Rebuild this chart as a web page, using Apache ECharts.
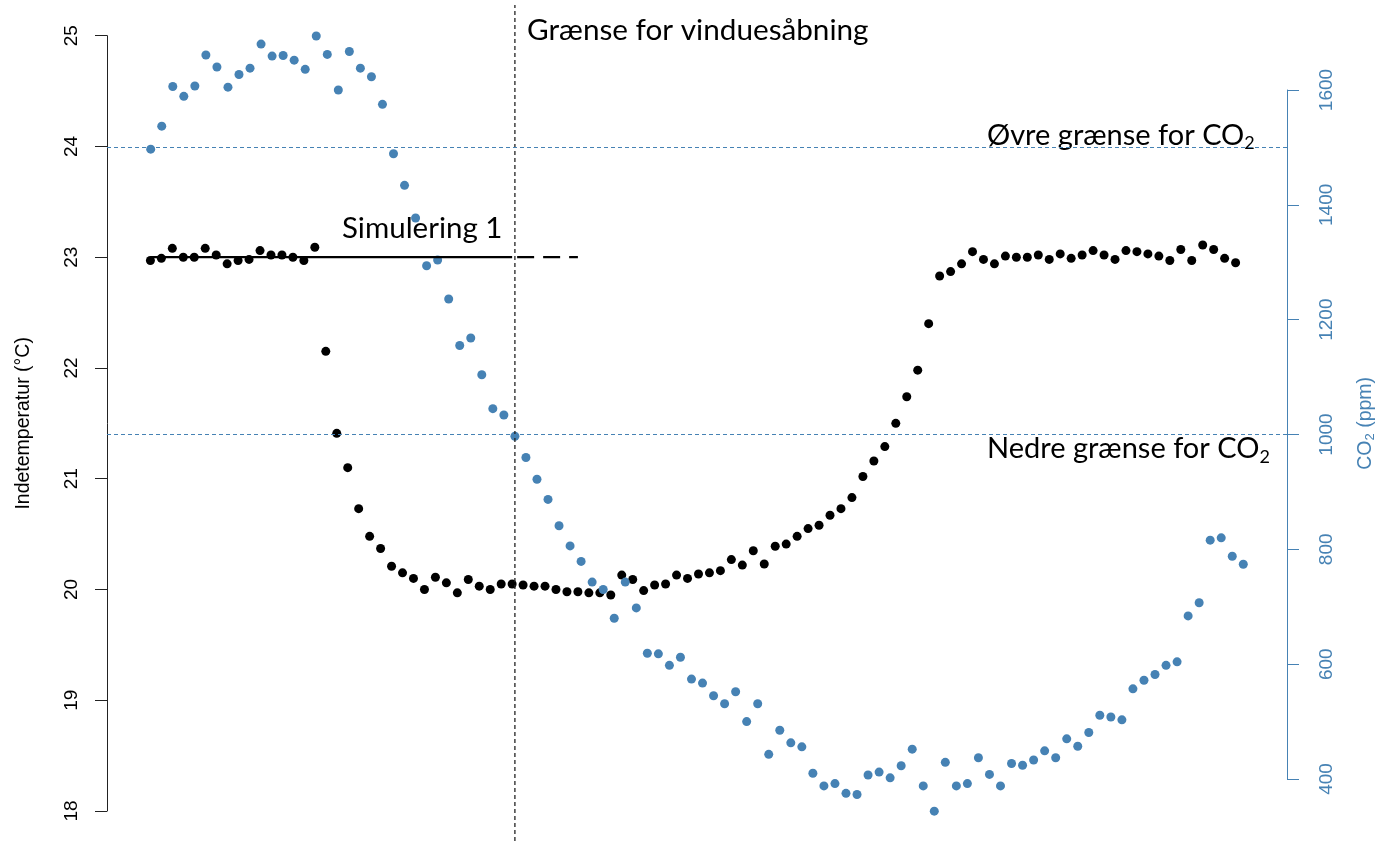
<!DOCTYPE html>
<html>
<head>
<meta charset="utf-8">
<script src="https://cdn.jsdelivr.net/npm/echarts@6/dist/echarts.min.js"></script>
<style>
html,body{margin:0;padding:0;background:#fff;}
#chart{width:1385px;height:841px;}
</style>
</head>
<body>
<div id="chart"></div>
<script>
// ---- data ----
const timeIndex = Array.from({length: 100}, (_, i) => i + 1);

const temperature = [
  22.97, 22.99, 23.08, 23.00, 23.00, 23.08, 23.02, 22.94, 22.97, 22.98,
  23.06, 23.02, 23.02, 23.00, 22.97, 23.09, 22.15, 21.41, 21.10, 20.73,
  20.48, 20.37, 20.21, 20.15, 20.10, 20.00, 20.11, 20.06, 19.97, 20.09,
  20.03, 20.00, 20.05, 20.05, 20.04, 20.03, 20.03, 20.00, 19.98, 19.98,
  19.97, 19.97, 19.95, 20.13, 20.09, 19.99, 20.04, 20.05, 20.13, 20.10,
  20.14, 20.15, 20.17, 20.27, 20.22, 20.35, 20.23, 20.39, 20.41, 20.48,
  20.55, 20.58, 20.67, 20.73, 20.83, 21.02, 21.16, 21.29, 21.50, 21.74,
  21.98, 22.40, 22.83, 22.87, 22.94, 23.05, 22.98, 22.94, 23.01, 23.00,
  23.00, 23.02, 22.98, 23.03, 22.99, 23.02, 23.06, 23.02, 22.98, 23.06,
  23.05, 23.03, 23.01, 22.97, 23.07, 22.97, 23.11, 23.07, 22.99, 22.95
];

const co2 = [
  1497, 1537, 1606, 1589, 1607, 1661, 1640, 1605, 1627, 1638,
  1680, 1659, 1660, 1652, 1636, 1694, 1662, 1600, 1667, 1638,
  1623, 1575, 1489, 1434, 1377, 1294, 1304, 1236, 1155, 1168,
  1104, 1045, 1034,  997,  960,  922,  887,  841,  806,  779,
   743,  730,  680,  743,  698,  619,  618,  598,  612,  574,
   567,  545,  531,  552,  500,  531,  443,  485,  463,  456,
   410,  388,  392,  375,  373,  407,  412,  402,  423,  452,
   388,  344,  429,  388,  392,  437,  408,  388,  427,  424,
   433,  449,  437,  470,  457,  481,  511,  508,  503,  557,
   572,  582,  598,  604,  684,  707,  816,  820,  788,  774
];

const tempTicks = {min: 18, max: 25, interval: 1};
const co2Ticks = {min: 400, max: 1600, interval: 200};
const co2Limits = [1500, 1000];          // upper / lower CO2 limit
const windowOpeningIndex = 34;           // "Grænse for vinduesåbning"
const simulation = {level: 23, start: 1, switchAt: 34, end: 40};

// ---- chart ----
const STEEL = '#4682B4';
const xRange = {min: 1 - 0.04 * 99, max: 100 + 0.04 * 99};
const axisFont = 'Liberation Sans';
const textFont = 'Lato';
const plain = v => String(v);

const tempData = timeIndex.map((t, i) => [t, temperature[i]]);
const co2Data = timeIndex.map((t, i) => [t, co2[i]]);

const chart = echarts.init(document.getElementById('chart'), null, {renderer: 'canvas'});

const subRich = (size, color) => ({
  a: {fontFamily: textFont, fontSize: size, fill: color, lineHeight: 34},
  s: {fontFamily: textFont, fontSize: 18, fill: color, lineHeight: 17, verticalAlign: 'bottom'}
});

const option = {
  animation: false,
  backgroundColor: '#fff',
  grid: [
    {left: 107, right: 98, top: 35.7, bottom: 30},
    {left: 107, right: 98, top: 90, bottom: 62},
    {left: 107, right: 98, top: 5, bottom: 0}
  ],
  xAxis: [0, 1, 2].map(g => ({
    type: 'value', gridIndex: g, min: xRange.min, max: xRange.max, show: false
  })),
  yAxis: [
    {
      type: 'value', gridIndex: 0, position: 'left',
      min: tempTicks.min, max: tempTicks.max, interval: tempTicks.interval,
      axisLine: {show: true, onZero: false, lineStyle: {color: '#222', width: 1}},
      axisTick: {show: true, length: 12, lineStyle: {color: '#222', width: 1}},
      axisLabel: {rotate: 90, margin: 26, fontSize: 19, color: '#000', fontFamily: axisFont, formatter: plain},
      splitLine: {show: false},
      name: 'Indetemperatur (°C)', nameLocation: 'middle', nameRotate: 90, nameGap: 73,
      nameTextStyle: {fontSize: 19.5, color: '#000', fontFamily: axisFont}
    },
    {
      type: 'value', gridIndex: 1, position: 'right',
      min: co2Ticks.min, max: co2Ticks.max, interval: co2Ticks.interval,
      axisLine: {show: true, onZero: false, lineStyle: {color: STEEL, width: 1}},
      axisTick: {show: true, length: 12, lineStyle: {color: STEEL, width: 1}},
      axisLabel: {rotate: 90, margin: 30, fontSize: 19, color: STEEL, fontFamily: axisFont, formatter: plain},
      splitLine: {show: false}
    },
    {type: 'value', gridIndex: 2, min: 0, max: 1, show: false},
    {
      type: 'value', gridIndex: 0, position: 'right', min: 0, max: 1,
      axisLine: {show: false, onZero: false}, axisTick: {show: false}, axisLabel: {show: false},
      splitLine: {show: false},
      name: '{a|CO}{s|2}{a| (ppm)}', nameLocation: 'middle', nameRotate: 90, nameGap: 76,
      nameTextStyle: {
        color: STEEL, fontFamily: axisFont, fontSize: 19.5,
        rich: {
          a: {color: STEEL, fontFamily: axisFont, fontSize: 19.5, lineHeight: 22},
          s: {color: STEEL, fontFamily: axisFont, fontSize: 13, lineHeight: 12, verticalAlign: 'bottom'}
        }
      }
    }
  ],
  series: [
    {
      name: 'window', type: 'line', xAxisIndex: 2, yAxisIndex: 2, symbol: 'none', silent: true,
      data: [[windowOpeningIndex, 0], [windowOpeningIndex, 1]],
      lineStyle: {color: '#222', width: 1.3, type: [4, 3]}
    },
    {
      name: 'sim-solid', type: 'line', xAxisIndex: 0, yAxisIndex: 0, symbol: 'none', silent: true,
      data: [[simulation.start, simulation.level], [simulation.switchAt, simulation.level]],
      lineStyle: {color: '#000', width: 2.2, type: 'solid'}
    },
    {
      name: 'sim-dashed', type: 'line', xAxisIndex: 0, yAxisIndex: 0, symbol: 'none', silent: true,
      data: [[simulation.switchAt, simulation.level], [simulation.end, simulation.level]],
      lineStyle: {color: '#000', width: 2.2, type: [17, 9], dashOffset: 21}
    },
    {
      name: 'Indetemperatur', type: 'scatter', xAxisIndex: 0, yAxisIndex: 0,
      symbol: 'circle', symbolSize: 9, clip: false,
      itemStyle: {color: '#000', opacity: 1},
      data: tempData
    },
    {
      name: 'CO2', type: 'scatter', xAxisIndex: 1, yAxisIndex: 1,
      symbol: 'circle', symbolSize: 9, clip: false,
      itemStyle: {color: STEEL, opacity: 1},
      data: co2Data,
      markLine: {
        silent: true, symbol: 'none', label: {show: false},
        lineStyle: {color: STEEL, width: 1, type: [4, 3]},
        data: co2Limits.map(v => ({yAxis: v}))
      }
    }
  ],
  graphic: [
    {
      type: 'text', x: 342, y: 228,
      style: {text: 'Simulering 1', font: '29.5px ' + textFont, fill: '#000', align: 'left', verticalAlign: 'middle'}
    },
    {
      type: 'text', x: 527, y: 30,
      style: {text: 'Grænse for vinduesåbning', font: '29.7px ' + textFont, fill: '#000', align: 'left', verticalAlign: 'middle'}
    },
    {
      type: 'text', x: 987, y: 135.5,
      style: {text: '{a|Øvre grænse for CO}{s|2}', align: 'left', verticalAlign: 'middle', rich: subRich(29, '#000')}
    },
    {
      type: 'text', x: 987, y: 449,
      style: {text: '{a|Nedre grænse for CO}{s|2}', align: 'left', verticalAlign: 'middle', rich: subRich(29, '#000')}
    }
  ]
};

chart.setOption(option);
</script>
</body>
</html>
